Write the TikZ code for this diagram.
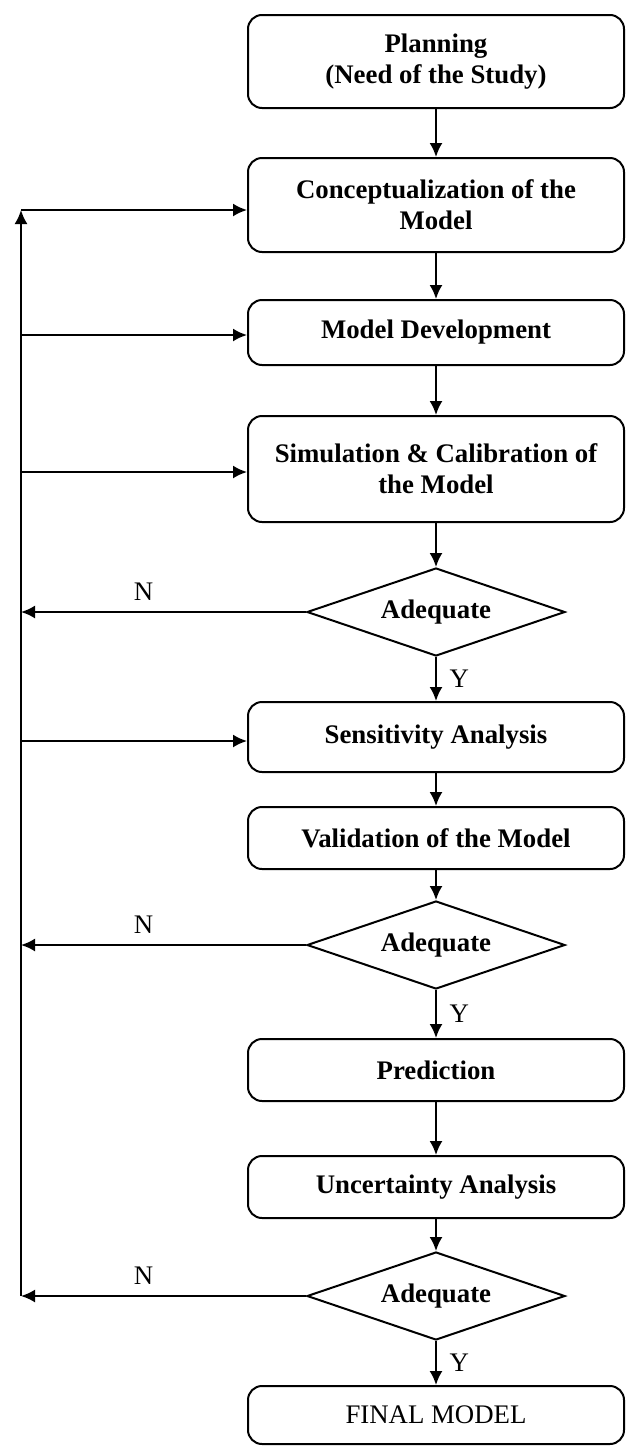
\documentclass[tikz,border=0pt]{standalone}
\usepackage{fontspec}
\setmainfont{Liberation Serif}
\usepackage{tikz}
\usetikzlibrary{shapes.geometric,arrows.meta}
\tikzset{stage/.style={draw, rectangle, rounded corners=7pt, minimum width=188pt,
    inner sep=0pt, align=center, font=\bfseries\fontsize{13.4}{15.5}\selectfont}}
\tikzset{check/.style={draw, diamond, shape aspect=2.92, minimum width=129pt, minimum height=44pt,
    inner sep=0pt, font=\bfseries\fontsize{13.4}{15.5}\selectfont}}
\tikzset{lbl/.style={font=\fontsize{13.4}{15.5}\selectfont}}

\begin{document}
\begin{tikzpicture}[x=0.5pt, y=-0.5pt, line width=1pt, >={Latex[length=7pt,width=6.5pt]}]
  \useasboundingbox (0,0) rectangle (628,1446);
  % main column
  \node[stage, minimum height=46.5pt] (plan) at (436,61.5) {Planning\\(Need of the Study)};
  \node[stage, minimum height=47pt] (concept) at (436,205) {Conceptualization of the\\Model};
  \node[stage, minimum height=32.5pt] (devel) at (436,332.5) {Model Development};
  \node[stage, minimum height=53pt] (simul) at (436,469) {Simulation \& Calibration of\\the Model};
  \node[check] (adq1) at (436,612) {Adequate};
  \node[stage, minimum height=35pt] (sens) at (436,737) {Sensitivity Analysis};
  \node[stage, minimum height=31pt] (valid) at (436,838) {Validation of the Model};
  \node[check] (adq2) at (436,945) {Adequate};
  \node[stage, minimum height=31pt] (pred) at (436,1070) {Prediction};
  \node[stage, minimum height=31pt] (uncert) at (436,1187) {Uncertainty Analysis};
  \node[check] (adq3) at (436,1296) {Adequate};
  \node[stage, minimum height=29pt, font=\fontsize{13.4}{15.5}\selectfont] (final) at (436,1415) {FINAL MODEL};

  \draw[->] (plan) -- (concept);
  \draw[->] (concept) -- (devel);
  \draw[->] (devel) -- (simul);
  \draw[->] (simul) -- (adq1);
  \draw[->] (adq1) -- node[lbl, right=3pt] {Y} (sens);
  \draw[->] (sens) -- (valid);
  \draw[->] (valid) -- (adq2);
  \draw[->] (adq2) -- node[lbl, right=3pt] {Y} (pred);
  \draw[->] (pred) -- (uncert);
  \draw[->] (uncert) -- (adq3);
  \draw[->] (adq3) -- node[lbl, right=3pt] {Y} (final);

  % feedback loop
  \coordinate (loopbot) at (21,1296);
  \coordinate (looptop) at (21,210);
  \draw[->] (loopbot) -- (looptop);
  \foreach \n/\y in {concept/210, devel/335, simul/472, sens/741}
    \draw[->] (21,\y) coordinate (in-\n) -- (in-\n -| \n.west);
  \foreach \n in {adq1, adq2, adq3}
    \draw[->] (\n.west) -- node[lbl, pos=0.57, above=2pt] {N} (\n.west -| loopbot);
\end{tikzpicture}
\end{document}
